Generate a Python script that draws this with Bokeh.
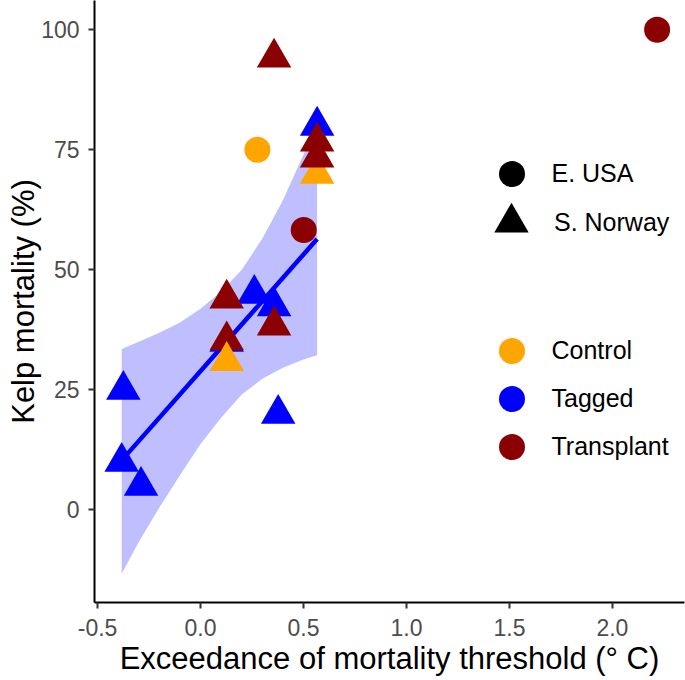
from bokeh.plotting import figure
from bokeh.models import (ColumnDataSource, Range1d, FixedTicker, Legend, LegendItem)
from bokeh.embed import file_html
from bokeh.resources import INLINE

# ---------------- data ----------------
site = ["S. Norway", "S. Norway", "S. Norway", "S. Norway", "S. Norway", "S. Norway",
        "S. Norway", "S. Norway", "S. Norway", "S. Norway", "S. Norway", "S. Norway",
        "S. Norway", "S. Norway", "S. Norway", "S. Norway", "E. USA", "E. USA", "E. USA"]
treatment = ["Tagged", "Tagged", "Tagged", "Tagged", "Tagged", "Tagged",
             "Tagged", "Tagged", "Control", "Transplant", "Transplant", "Transplant",
             "Transplant", "Transplant", "Transplant", "Control", "Control", "Transplant", "Transplant"]
exceedance = [-0.375, -0.383, -0.289, 0.377, 0.261, 0.357,
              0.127, 0.566, 0.566, 0.127, 0.357, 0.127,
              0.566, 0.566, 0.357, 0.127, 0.276, 0.501, 2.217]
mortality = [25.0, 10.0, 5.0, 20.0, 45.0, 42.4,
             35.0, 80.0, 70.0, 44.0, 38.4, 35.3,
             76.7, 73.4, 94.2, 31.0, 75.0, 58.3, 100.0]

# fitted line and confidence band
fit_x = [-0.383, 0.566]
fit_y = [10.3, 56.4]
band_x = [-0.383, -0.3, -0.2, -0.1, 0.0, 0.1, 0.2, 0.3, 0.4, 0.5, 0.566]
band_upper = [33.5, 35.0, 36.9, 39.0, 41.9, 45.5, 50.0, 56.5, 64.5, 74.0, 80.7]
band_lower = [-13.3, -6.7, 0.5, 7.2, 13.7, 19.2, 24.0, 27.3, 29.6, 31.3, 32.2]

x_ticks = [-0.5, 0.0, 0.5, 1.0, 1.5, 2.0]
x_tick_labels = ["-0.5", "0.0", "0.5", "1.0", "1.5", "2.0"]
y_ticks = [0, 25, 50, 75, 100]
y_tick_labels = ["0", "25", "50", "75", "100"]

sites = ["E. USA", "S. Norway"]
treatments = ["Control", "Tagged", "Transplant"]

# ---------------- styles ----------------
COLORS = {"Control": "#FFA500", "Tagged": "#0000FF", "Transplant": "#8B0000"}
MARKERS = {"E. USA": "circle", "S. Norway": "triangle"}
SIZES = {"E. USA": 26, "S. Norway": 34.5}
FONT = "Liberation Sans"

src = ColumnDataSource(dict(
    x=exceedance, y=mortality,
    color=[COLORS[t] for t in treatment],
    marker=[MARKERS[s] for s in site],
    size=[SIZES[s] for s in site],
))

p = figure(width=685, height=680,
           x_range=Range1d(-0.515, 2.35), y_range=Range1d(-19.31, 106.1),
           output_backend="svg", toolbar_location=None,
           min_border_left=94, min_border_right=1, min_border_top=0, min_border_bottom=78)
p.grid.visible = False
p.outline_line_color = None
p.background_fill_color = "white"
p.border_fill_color = "white"

p.varea(x=band_x, y1=band_lower, y2=band_upper, fill_color="#0000FF", fill_alpha=0.25)
p.line(x=fit_x, y=fit_y, line_color="#0000FF", line_width=4.5)

# legend key renderers: tiny markers hidden beneath the real points
# (the legend draws its own glyph size from the key box)
key_specs = [
    ("E. USA", "circle", "black", 65, (384.5, 396.5), 8),
    ("S. Norway", "triangle", "black", 86, (374, 337), -2),
    ("Control", "circle", COLORS["Control"], 65, (384.5, 219.5), 8),
    ("Tagged", "circle", COLORS["Tagged"], 65, (384.5, 171.5), 8),
    ("Transplant", "circle", COLORS["Transplant"], 65, (384.5, 123.5), 8),
]
key_renderers = []
for label, marker, color, box, loc, standoff in key_specs:
    r = p.scatter("x", "y", source=src, marker=marker, size=1,
                  fill_color=color, line_color=None)
    key_renderers.append(r)

p.scatter("x", "y", source=src, marker="marker", size="size",
          fill_color="color", line_color="color", line_width=0)

for (label, marker, color, box, loc, standoff), r in zip(key_specs, key_renderers):
    leg = Legend(items=[LegendItem(label=label, renderers=[r])], location=loc,
                 glyph_width=box, glyph_height=box, label_standoff=standoff,
                 label_text_font=FONT, label_text_font_size="25px", label_text_color="black",
                 padding=0, margin=0, border_line_color=None, background_fill_alpha=0)
    p.add_layout(leg)

# axes
for ax in (p.xaxis[0], p.yaxis[0]):
    ax.axis_line_color = "black"
    ax.axis_line_width = 2
    ax.major_tick_line_color = "#333333"
    ax.major_tick_line_width = 2
    ax.major_tick_out = 6
    ax.major_tick_in = 0
    ax.minor_tick_line_color = None
    ax.major_label_text_font = FONT
    ax.major_label_text_font_size = "23px"
    ax.major_label_text_color = "#4D4D4D"
    ax.axis_label_text_font = FONT
    ax.axis_label_text_font_size = "31px"
    ax.axis_label_text_font_style = "normal"
    ax.axis_label_text_color = "black"

p.xaxis.ticker = FixedTicker(ticks=x_ticks)
p.xaxis.major_label_overrides = {t: l for t, l in zip(x_ticks, x_tick_labels)}
p.xaxis.axis_label = "Exceedance of mortality threshold (\u00b0 C)"
p.xaxis.major_label_standoff = 10
p.xaxis.axis_label_standoff = 2

p.yaxis.ticker = FixedTicker(ticks=y_ticks)
p.yaxis.major_label_overrides = {t: l for t, l in zip(y_ticks, y_tick_labels)}
p.yaxis.axis_label = "Kelp mortality (%)"
p.yaxis.major_label_standoff = 9
p.yaxis.axis_label_standoff = -3

open("out.html", "w").write(file_html(p, INLINE))
